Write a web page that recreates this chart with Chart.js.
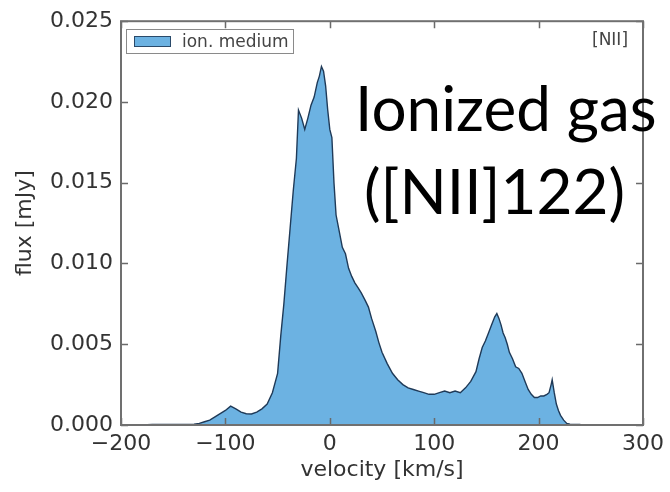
<!DOCTYPE html>
<html>
<head>
<meta charset="utf-8">
<script src="https://cdn.jsdelivr.net/npm/chart.js@4.4.1/dist/chart.umd.min.js"></script>
<style>
  html, body { margin: 0; padding: 0; background: #ffffff; }
  #wrap { position: relative; width: 670px; height: 492px; overflow: hidden; }
  canvas { position: absolute; left: 0; top: 0; }
  .big { position: absolute; font-family: Lato, "Open Sans", sans-serif; font-size: 62px; line-height: 62px; color: #000; white-space: nowrap; }
  #legend { position: absolute; left: 126px; top: 29px; width: 168px; height: 25px; border: 1.5px solid #8a8a8a; background: #fff; box-sizing: border-box; }
  #legend .sw { position: absolute; left: 7px; top: 6px; width: 37px; height: 11px; background: #6cb2e2; border: 1.2px solid #2a4a6a; box-sizing: border-box; }
  #legend .lt { position: absolute; left: 55px; top: 1px; font-family: "DejaVu Sans", sans-serif; font-size: 17px; line-height: 20px; color: #444; white-space: nowrap; }
  #tag { position: absolute; left: 592px; top: 29px; font-family: "DejaVu Sans", sans-serif; font-size: 17px; line-height: 20px; color: #444; }
</style>
</head>
<body>
<div id="wrap">
  <canvas id="c" width="670" height="492"></canvas>
  <div id="legend"><div class="sw"></div><div class="lt">ion. medium</div></div>
  <div id="tag">[NII]</div>
  <div class="big" id="l1" style="left:355px; top:76px;">Ionized gas</div>
  <div class="big" id="l2" style="left:364px; top:159px;">([NII]122)</div>
</div>
<script>
// ---- data ----
const velocity = [
  -180, -175, -170, -160, -150, -140, -130, -125, -120, -115, -110, -105, -100, -95, -90, -85, -80, -75, -70, -65,
  -60, -55, -50, -47, -44, -41, -38, -35, -32, -30, -27, -24, -21, -18, -15, -12, -10, -8, -6, -4,
  -2, 0, 2, 4, 6, 9, 12, 15, 18, 21, 24, 27, 30, 34, 37, 40, 44, 47, 50, 55,
  60, 65, 70, 75, 80, 85, 90, 95, 100, 105, 110, 115, 120, 125, 130, 135, 140, 143, 146, 149,
  152, 155, 158, 160, 162, 164, 166, 168, 170, 172, 175, 178, 181, 184, 187, 190, 193, 196, 199, 202,
  205, 208, 210, 212, 213, 215, 217, 219, 221, 224, 227, 230, 240, 260, 280, 292
];
const flux = [
  0.00000, 0.00002, 0.00003, 0.00003, 0.00003, 0.00004, 0.00005, 0.00010, 0.00020, 0.00030, 0.00050, 0.00070, 0.00090, 0.00117, 0.00100, 0.00080, 0.00070, 0.00068, 0.00080, 0.00100,
  0.00130, 0.00200, 0.00320, 0.00550, 0.00750, 0.00990, 0.01220, 0.01450, 0.01650, 0.01950, 0.01900, 0.01830, 0.01900, 0.01980, 0.02030, 0.02120, 0.02160, 0.02220, 0.02190, 0.02100,
  0.01950, 0.01830, 0.01780, 0.01500, 0.01300, 0.01200, 0.01100, 0.01060, 0.00970, 0.00920, 0.00880, 0.00850, 0.00820, 0.00770, 0.00730, 0.00660, 0.00580, 0.00510, 0.00450, 0.00380,
  0.00320, 0.00280, 0.00250, 0.00230, 0.00220, 0.00210, 0.00200, 0.00190, 0.00190, 0.00200, 0.00210, 0.00200, 0.00210, 0.00200, 0.00230, 0.00270, 0.00330, 0.00410, 0.00480, 0.00520,
  0.00570, 0.00620, 0.00670, 0.00690, 0.00660, 0.00620, 0.00570, 0.00540, 0.00500, 0.00450, 0.00410, 0.00360, 0.00350, 0.00320, 0.00270, 0.00220, 0.00190, 0.00170, 0.00170, 0.00180,
  0.00180, 0.00190, 0.00200, 0.00250, 0.00280, 0.00200, 0.00130, 0.00090, 0.00060, 0.00030, 0.00010, 0.00005, 0.00003, 0.00002, 0.00002, 0.00000
];
const xTicks = [-200, -100, 0, 100, 200, 300];
const yTicks = [0.000, 0.005, 0.010, 0.015, 0.020, 0.025];
const seriesLabel = 'ion. medium';

const points = velocity.map((v, i) => ({ x: v, y: flux[i] }));

const frameTicks = {
  id: 'frameTicks',
  afterDatasetsDraw(chart) {
    const { ctx, chartArea: { left, right, top, bottom }, scales: { x, y } } = chart;
    ctx.save();
    ctx.strokeStyle = '#6a6a6a';
    ctx.lineWidth = 1.5;
    ctx.beginPath();
    x.ticks.forEach(t => {
      const px = Math.round(x.getPixelForValue(t.value)) + 0.5;
      ctx.moveTo(px, bottom); ctx.lineTo(px, bottom - 7);
      ctx.moveTo(px, top); ctx.lineTo(px, top + 7);
    });
    y.ticks.forEach(t => {
      const py = Math.round(y.getPixelForValue(t.value)) + 0.5;
      ctx.moveTo(left, py); ctx.lineTo(left + 7, py);
      ctx.moveTo(right, py); ctx.lineTo(right - 7, py);
    });
    ctx.stroke();
    ctx.lineWidth = 2;
    ctx.strokeStyle = '#707070';
    ctx.strokeRect(left, top, right - left, bottom - top);
    ctx.restore();
  }
};

new Chart(document.getElementById('c'), {
  type: 'line',
  data: {
    datasets: [{
      label: seriesLabel,
      data: points,
      fill: 'origin',
      backgroundColor: '#6cb2e2',
      borderColor: '#1f3a58',
      borderWidth: 1.4,
      pointRadius: 0,
      tension: 0
    }]
  },
  options: {
    responsive: false,
    animation: false,
    layout: { padding: { left: 0, right: 24, top: 18, bottom: 0 } },
    plugins: { legend: { display: false }, tooltip: { enabled: false } },
    scales: {
      x: {
        type: 'linear',
        min: xTicks[0], max: xTicks[xTicks.length - 1],
        afterBuildTicks: s => { s.ticks = xTicks.map(v => ({ value: v })); },
        afterFit: s => { s.height = 67; },
        grid: { display: false, drawTicks: false },
        border: { display: false },
        ticks: {
          padding: 6,
          color: '#333',
          font: { family: 'DejaVu Sans', size: 22 },
          callback: v => (v < 0 ? '\u2212' + Math.abs(v) : String(v))
        },
        title: {
          display: true, text: 'velocity [km/s]', color: '#333',
          font: { family: 'DejaVu Sans', size: 22 },
          padding: { top: 0, bottom: 9 }
        }
      },
      y: {
        type: 'linear',
        min: yTicks[0], max: yTicks[yTicks.length - 1],
        afterBuildTicks: s => { s.ticks = yTicks.map(v => ({ value: v })); },
        afterFit: s => { s.width = 121; },
        grid: { display: false, drawTicks: false },
        border: { display: false },
        ticks: {
          padding: 8,
          color: '#333',
          font: { family: 'DejaVu Sans', size: 22 },
          callback: v => Number(v).toFixed(3)
        },
        title: {
          display: true, text: 'flux [mJy]', color: '#333',
          font: { family: 'DejaVu Sans', size: 22 },
          padding: { top: 12, bottom: 0 }
        }
      }
    }
  },
  plugins: [frameTicks]
});
</script>
</body>
</html>
